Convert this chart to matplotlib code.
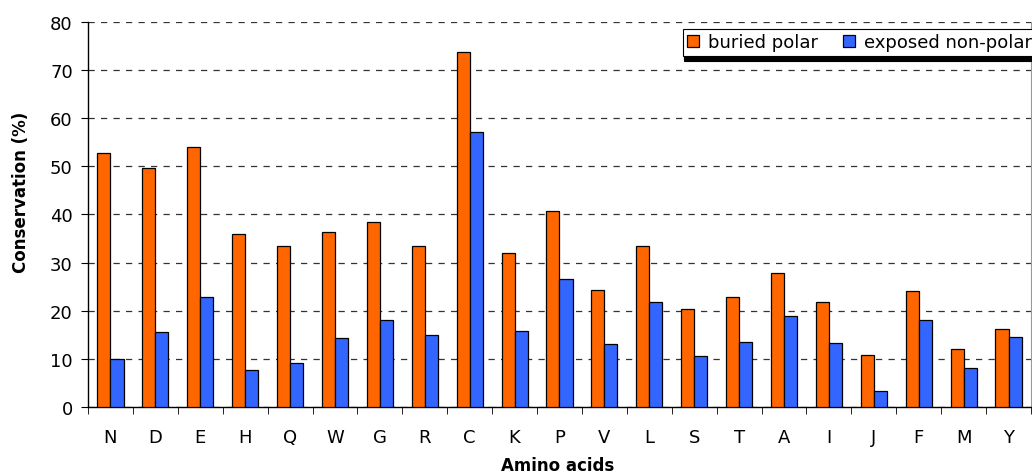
import numpy as np
import matplotlib
matplotlib.use("Agg")
import matplotlib.pyplot as plt

plt.rcParams["font.family"] = ["DejaVu Sans"]

# datos
aminoacidos = ["N", "D", "E", "H", "Q", "W", "G", "R", "C", "K", "P",
               "V", "L", "S", "T", "A", "I", "J", "F", "M", "Y"]
buried_polar = [52.7, 49.7, 54.1, 35.9, 33.5, 36.4, 38.4, 33.5, 73.8, 32.0, 40.8,
                24.3, 33.4, 20.4, 22.9, 27.8, 21.9, 10.8, 24.1, 12.1, 16.3]
exposed_nonpolar = [10.0, 15.5, 22.9, 7.7, 9.2, 14.3, 18.0, 14.9, 57.2, 15.8, 26.6,
                    13.1, 21.9, 10.6, 13.6, 19.0, 13.3, 3.3, 18.0, 8.0, 14.6]

x = np.arange(len(aminoacidos))
ancho = 0.29

fig = plt.figure(figsize=(10.32, 4.77), dpi=100)
ax = fig.add_axes([0.0853, 0.1447, 0.9137, 0.8071])

ax.bar(x - ancho / 2, buried_polar, ancho, color="#FF6600", edgecolor="black",
       linewidth=0.9, label="buried polar", zorder=3)
ax.bar(x + ancho / 2, exposed_nonpolar, ancho, color="#3366FF", edgecolor="black",
       linewidth=0.9, label="exposed non-polar", zorder=3)

ax.set_xlim(-0.5, len(aminoacidos) - 0.5)
ax.set_ylim(0, 80)
ax.set_yticks(np.arange(0, 81, 10))
ax.set_xticks(x)
ax.set_xticklabels(aminoacidos, fontsize=13)
ax.tick_params(axis="x", length=0, pad=15)
ax.set_xticks(np.arange(-0.5, len(aminoacidos), 1), minor=True)
ax.tick_params(axis="x", which="minor", length=5, direction="out")
ax.tick_params(axis="y", labelsize=13, length=5, direction="out", pad=6)

ax.yaxis.grid(True, linestyle=(0, (5, 5)), color="#333333", linewidth=0.9, zorder=0)
ax.spines["top"].set_visible(False)
ax.spines["right"].set_color("#999999")
ax.spines["left"].set_linewidth(1.0)
ax.spines["bottom"].set_linewidth(1.0)

ax.set_xlabel("Amino acids", fontsize=12, fontweight="bold")
ax.xaxis.set_label_coords(0.498, -0.128)
ax.set_ylabel("Conservation (%)", fontsize=12, fontweight="bold")
ax.yaxis.set_label_coords(-0.062, 0.56)

leg = ax.legend(loc="upper right", bbox_to_anchor=(1.006, 0.983), ncol=2,
                fontsize=13, frameon=True, fancybox=False,
                shadow={"color": "black", "alpha": 1, "ox": 1, "oy": -4},
                edgecolor="black", borderpad=0.25, handlelength=0.65, handleheight=0.65,
                handletextpad=0.5, columnspacing=1.4, borderaxespad=0)
leg.get_frame().set_linewidth(0.8)

plt.savefig("out.png", dpi=100)
